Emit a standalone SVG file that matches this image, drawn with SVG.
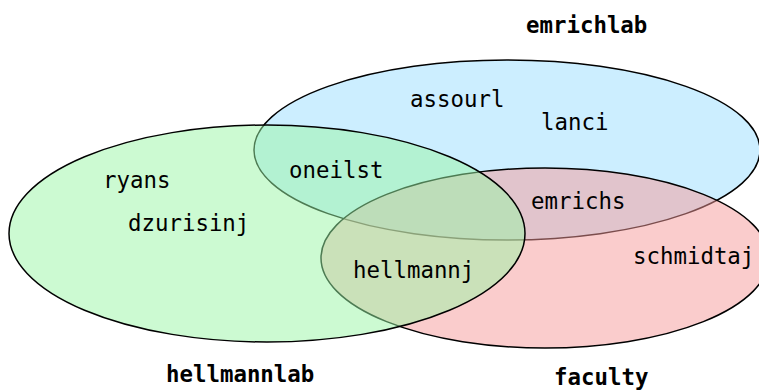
<svg xmlns="http://www.w3.org/2000/svg" width="759" height="390" viewBox="0 0 759 390">
<style>
.set{stroke:#000;stroke-width:1.5}
.t{font-family:"DejaVu Sans Mono",monospace;font-size:22.4px;fill:#000}
.lb{font-family:"DejaVu Sans Mono",monospace;font-size:22.4px;font-weight:bold;fill:#000}
</style>
<rect width="759" height="390" fill="#fff"/>
<g id="emrichlab">
<ellipse class="set" cx="507" cy="150" rx="253" ry="90" fill="rgb(153,221,255)" fill-opacity="0.5"/>
<text class="lb" x="526" y="33">emrichlab</text>
</g>
<g id="faculty">
<ellipse class="set" cx="545" cy="258" rx="224" ry="90" fill="rgb(245,153,153)" fill-opacity="0.5"/>
<text class="lb" x="554" y="385">faculty</text>
</g>
<g id="hellmannlab">
<ellipse class="set" cx="267" cy="233.5" rx="258" ry="108.5" fill="rgb(153,245,165)" fill-opacity="0.5"/>
<text class="lb" x="166" y="382">hellmannlab</text>
</g>
<g id="members">
<text class="t" x="410" y="107">assourl</text>
<text class="t" x="541" y="130">lanci</text>
<text class="t" x="531" y="209">emrichs</text>
<text class="t" x="633" y="264">schmidtaj</text>
<text class="t" x="103" y="188">ryans</text>
<text class="t" x="128" y="231">dzurisinj</text>
<text class="t" x="289" y="178">oneilst</text>
<text class="t" x="353" y="278">hellmannj</text>
</g>
<g id="connectors"></g>
</svg>
